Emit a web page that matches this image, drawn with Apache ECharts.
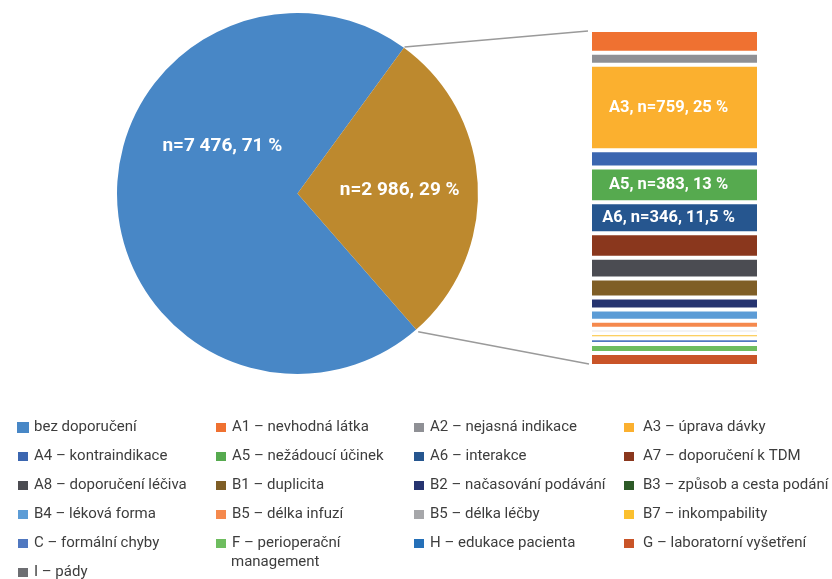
<!DOCTYPE html>
<html>
<head>
<meta charset="utf-8">
<script src="https://cdn.jsdelivr.net/npm/echarts@6/dist/echarts.min.js"></script>
<style>
  html, body { margin: 0; padding: 0; background: #ffffff; }
  #main { width: 832px; height: 579px; }
</style>
</head>
<body>
<div id="main"></div>
<script>
// hlavní koláč
const pieNames = ["bez doporučení", "s doporučením"];
const pieValues = [7476, 2986];
const pieLabels = ["n=7 476, 71 %", "n=2 986, 29 %"];

// rozpad doporučení (sloupec vpravo, shora dolů)
const barNames = [
  "A1 – nevhodná látka",
  "A2 – nejasná indikace",
  "A3 – úprava dávky",
  "A4 – kontraindikace",
  "A5 – nežádoucí účinek",
  "A6 – interakce",
  "A7 – doporučení k TDM",
  "A8 – doporučení léčiva",
  "B1 – duplicita",
  "B2 – načasování podávání",
  "B3 – způsob a cesta podání",
  "B4 – léková forma",
  "B5 – délka infuzí",
  "B5 – délka léčby",
  "B7 – inkompability",
  "C – formální chyby",
  "F – perioperační management",
  "H – edukace pacienta",
  "G – laboratorní vyšetření",
  "I – pády",
];
const barValues = [202, 107, 759, 154, 308, 275, 219, 184, 169, 107, 0, 98, 71, 40, 45, 51, 80, 0, 116, 0];
const barLabels = ["", "", "A3, n=759, 25 %", "", "A5, n=383, 13 %", "A6, n=346, 11,5 %",
  "", "", "", "", "", "", "", "", "", "", "", "", "", ""];

const pieColors = ["#4887c6", "#bd892e"];
const barColors = [
  "#ef7131", "#8f9095", "#fbb02f", "#3b66b0", "#56aa4f", "#26568f", "#8a371d",
  "#4b4c52", "#7f5e26", "#263470", "#2d5a27", "#5c9cd6", "#f5894d", "#cfcfd0",
  "#fbc02f", "#5078c0", "#6ebd5f", "#2570b8", "#c95428", "#6d6e72",
];

let myChart = echarts.init(document.getElementById("main"));

// rozložení
const cx = 297.5, cy = 193.5, R = 180.5;
const barLeft = 590, barTop = 30, barW = 169, barH = 336;
const groupMid = 2.5; // střed výseče s doporučením (stupně)
const total = pieValues[0] + pieValues[1];
const groupSpan = pieValues[1] / total * 360;
const startAngle = groupMid - groupSpan / 2 + 360;
const aTop = (groupMid + groupSpan / 2) * Math.PI / 180;
const aBot = (groupMid - groupSpan / 2) * Math.PI / 180;
const barTotal = barValues.reduce((s, v) => s + v, 0);

const legendText = { fontSize: 15, color: "#3d3d3d", lineHeight: 18 };
function legendCol(left, names, extra) {
  return Object.assign({
    orient: "vertical",
    left: left,
    top: 418.5,
    height: 200,
    padding: 0,
    itemGap: 11,
    itemWidth: 12,
    itemHeight: 11,
    icon: "rect",
    selectedMode: false,
    data: names,
    textStyle: Object.assign({}, legendText),
  }, extra || {});
}

let options = {
  animation: false,
  textStyle: { fontFamily: "Roboto" },
  grid: { left: barLeft, top: barTop, width: barW, height: barH },
  xAxis: { type: "category", data: ["doporučení"], show: false },
  yAxis: { type: "value", inverse: true, min: 0, max: barTotal, show: false },
  legend: [
    legendCol(16, [pieNames[0], barNames[3], barNames[7], barNames[11], barNames[15], barNames[19]]),
    legendCol(214, [barNames[0], barNames[4], barNames[8], barNames[12], barNames[16]], {
      formatter: (name) => (name === barNames[16] ? "F – perioperační" : name),
    }),
    legendCol(412, [barNames[1], barNames[5], barNames[9],
      { name: barNames[13], itemStyle: { color: "#a6a7aa" } }, barNames[17]]),
    legendCol(622, [barNames[2], barNames[6], barNames[10], barNames[14], barNames[18]], {
      textStyle: Object.assign({}, legendText, { padding: [0, 0, 0, 3] }),
    }),
  ],
  graphic: [
    {
      type: "line",
      silent: true,
      shape: {
        x1: cx + (R + 1) * Math.cos(aTop), y1: cy - (R + 1) * Math.sin(aTop),
        x2: barLeft - 2, y2: barTop + 1,
      },
      style: { stroke: "#9a9a9a", lineWidth: 1.5 },
    },
    {
      type: "line",
      silent: true,
      shape: {
        x1: cx + (R + 3) * Math.cos(aBot), y1: cy - (R + 3) * Math.sin(aBot),
        x2: barLeft - 1, y2: barTop + barH - 2,
      },
      style: { stroke: "#9a9a9a", lineWidth: 1.5 },
    },
    {
      // druhý řádek položky F
      type: "text",
      silent: true,
      style: {
        text: "management",
        x: 231,
        y: 562.5,
        verticalAlign: "middle",
        font: "15px Roboto",
        fill: "#3d3d3d",
      },
    },
  ],
  series: [
    {
      name: "koláč",
      type: "pie",
      center: [cx, cy],
      radius: R,
      startAngle: startAngle,
      clockwise: true,
      silent: true,
      data: pieNames.map((n, i) => ({ name: n, value: pieValues[i], itemStyle: { color: pieColors[i] } })),
      label: {
        show: true,
        position: "inside",
        formatter: (p) => pieLabels[p.dataIndex],
        color: "#ffffff",
        fontWeight: "bold",
        fontSize: 19,
      },
      labelLine: { show: false },
      labelLayout: (p) => (p.dataIndex === 0 ? { dx: 18, dy: -51 } : { dx: 9, dy: 1 }),
    },
  ].concat(
    barNames.map((name, i) => ({
      name: name,
      type: "bar",
      stack: "doporuceni",
      barWidth: "100%",
      silent: true,
      data: [barValues[i]],
      itemStyle: { color: barColors[i], borderColor: "#ffffff", borderWidth: 2 },
      label: {
        show: barLabels[i] !== "",
        position: "inside",
        offset: [-6, 0],
        formatter: () => barLabels[i],
        color: "#ffffff",
        fontWeight: "bold",
        fontSize: 16.5,
      },
    }))
  ),
};

myChart.setOption(options);
</script>
</body>
</html>
